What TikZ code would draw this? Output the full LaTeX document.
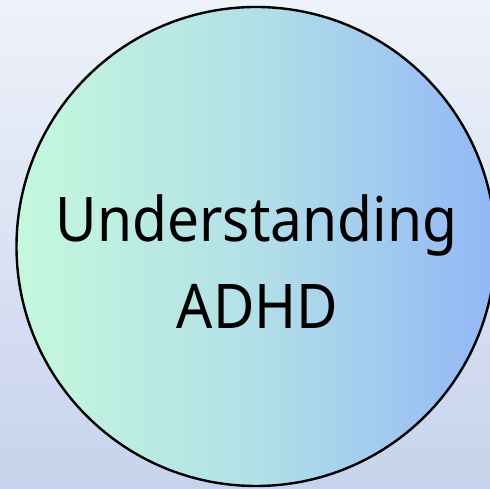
\documentclass[tikz,border=0pt]{standalone}
\usepackage{fontspec}
\setmainfont[FakeStretch=0.923]{Noto Sans}
\definecolor{bgtop}{HTML}{EEF2FA}
\definecolor{bgbottom}{HTML}{C7D2EC}
\definecolor{mint}{HTML}{C5F8DC}
\definecolor{aqua}{HTML}{B3DFE8}
\definecolor{sky}{HTML}{93B7F6}

\begin{document}
\begin{tikzpicture}[x=1pt,y=1pt]\fontsize{61.6}{74}\selectfont
				\useasboundingbox (0,0) rectangle (490,489);
				\clip (0,0) rectangle (490,489);
				\fill[top color=bgtop, bottom color=bgbottom] (0,0) rectangle (490,489);
				\draw[line width=2.4pt, left color=mint, right color=sky, middle color=aqua] (256,242.5) circle (239.5);
				\node[anchor=base] (upper line) at (256.5,247) {Understanding};
				\node[anchor=base] (lower line) at (257.5,160) {ADHD};
			\end{tikzpicture}
\end{document}
